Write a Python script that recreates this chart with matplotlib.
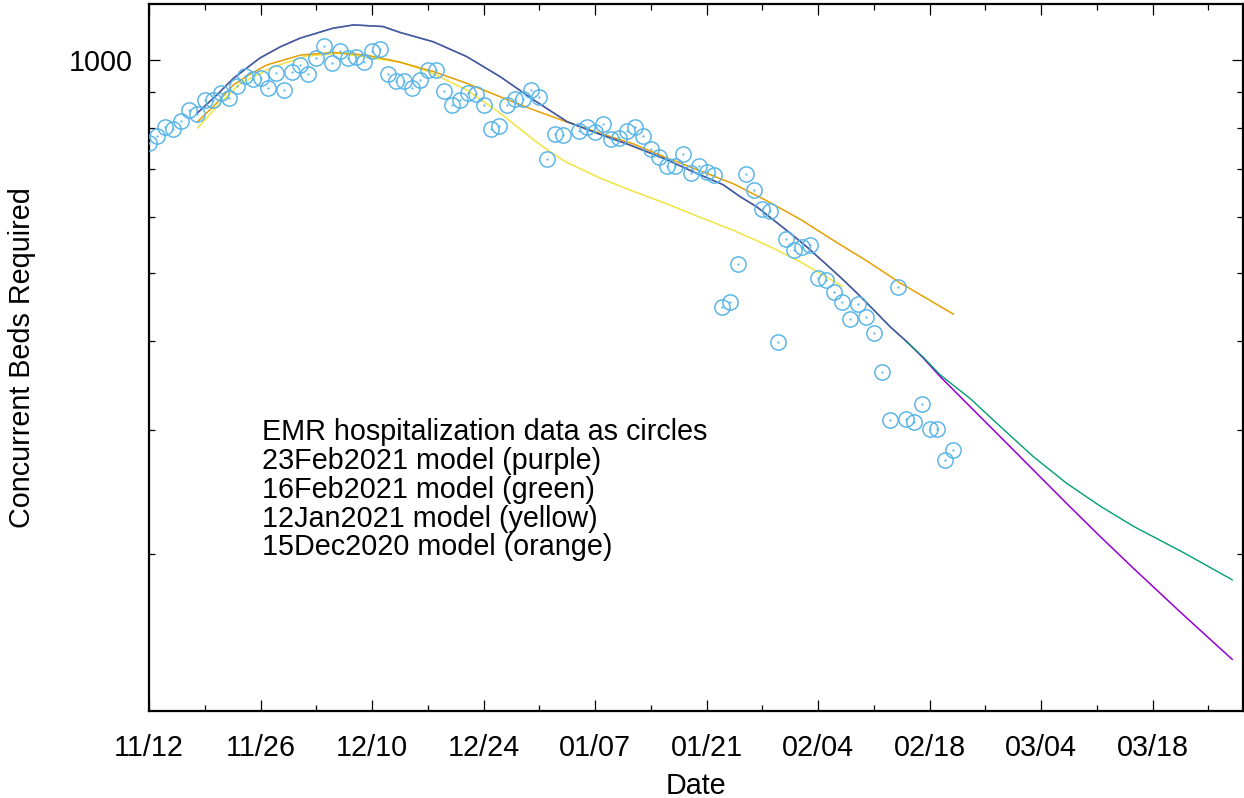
import numpy as np
import matplotlib
matplotlib.use("Agg")
import matplotlib.pyplot as plt
import matplotlib.dates as mdates
from matplotlib.ticker import FixedLocator, NullFormatter, FixedFormatter
from datetime import datetime

plt.rcParams["font.family"] = ["Liberation Sans", "DejaVu Sans"]

# ---- data -------------------------------------------------------------
start_date = datetime(2020, 11, 12)

# EMR hospitalization census, days after 11/12/2020 (no report on day 53)
obs_day = [0, 1, 2, 3, 4, 5, 6, 7, 8, 9, 10, 11, 12, 13, 14, 15, 16, 17, 18, 19,
           20, 21, 22, 23, 24, 25, 26, 27, 28, 29, 30, 31, 32, 33, 34, 35, 36, 37,
           38, 39, 40, 41, 42, 43, 44, 45, 46, 47, 48, 49, 50, 51, 52, 54, 55, 56,
           57, 58, 59, 60, 61, 62, 63, 64, 65, 66, 67, 68, 69, 70, 71, 72, 73, 74,
           75, 76, 77, 78, 79, 80, 81, 82, 83, 84, 85, 86, 87, 88, 89, 90, 91, 92,
           93, 94, 95, 96, 97, 98, 99, 100, 101]
obs_beds = [762, 781, 805, 799, 821, 849, 840, 879, 879, 897, 884, 920, 950, 940,
            944, 912, 958, 906, 963, 984, 955, 1006, 1046, 990, 1031, 1006, 1010,
            993, 1031, 1035, 954, 933, 934, 912, 937, 968, 968, 905, 865, 878, 897,
            895, 864, 798, 807, 865, 881, 881, 906, 886, 724, 786, 783, 793, 805,
            792, 811, 774, 775, 793, 804, 781, 749, 730, 707, 709, 737, 692, 709,
            695, 688, 447, 455, 515, 689, 655, 616, 612, 399, 559, 539, 543, 548,
            491, 488, 469, 454, 430, 452, 433, 411, 362, 310, 478, 311, 308, 326,
            301, 301, 272, 281]

# 23Feb2021 model
feb23_day = [6.1, 8.5, 10.6, 13.9, 16.5, 19.0, 23.1, 25.7, 29.4, 31.5, 35.7, 39.9,
             44.1, 48.3, 52.5, 56.2, 60.4, 64.6, 68.8, 72.1, 74.2, 76.3, 78.4, 80.5,
             82.6, 84.7, 86.8, 88.9, 91.0, 93.1, 95.2, 97.2, 99.3, 101.4, 103.5,
             106.9, 115.2, 119.4, 123.6, 129.9, 136.0]
feb23_beds = [842, 892, 942, 1006, 1044, 1074, 1109, 1121, 1115, 1094, 1061, 1011,
              947, 878, 818, 788, 758, 726, 691, 666, 641, 620, 594, 569, 544, 518,
              493, 468, 443, 419, 399, 379, 357, 338, 320, 293, 236, 212, 191, 164,
              142]

# 16Feb2021 model
feb16_day = [6.1, 8.5, 10.6, 13.9, 16.5, 19.0, 23.1, 25.7, 29.4, 31.5, 35.7, 39.9,
             44.1, 48.3, 52.5, 56.2, 60.4, 64.6, 68.8, 72.1, 74.2, 76.3, 78.4, 80.5,
             82.6, 84.7, 86.8, 88.9, 91.0, 93.1, 95.2, 97.2, 99.3, 103.1, 106.9,
             111.0, 115.2, 119.4, 123.6, 129.9, 136.0]
feb16_beds = [842, 892, 942, 1006, 1044, 1074, 1109, 1121, 1115, 1094, 1061, 1011,
              947, 878, 818, 788, 758, 726, 691, 666, 641, 620, 594, 569, 544, 518,
              493, 468, 443, 419, 399, 380, 359, 332, 303, 275, 252, 234, 219, 201,
              184]

# 12Jan2021 model
jan12_day = [6.1, 9.1, 11.4, 15.6, 19.8, 24.0, 28.2, 31.5, 35.1, 39.9, 42.0, 44.1,
             48.3, 50.4, 52.5, 56.6, 60.8, 65.0, 69.2, 73.4, 77.6, 81.8, 87.0]
jan12_beds = [801, 873, 925, 978, 1013, 1022, 1006, 993, 963, 907, 873, 841, 771,
              741, 716, 681, 652, 626, 599, 574, 547, 518, 479]

# 15Dec2020 model
dec15_day = [6.1, 8.5, 10.6, 12.7, 14.8, 19.0, 23.1, 27.3, 31.5, 35.7, 39.9, 44.1,
             48.3, 52.5, 56.6, 60.8, 65.0, 69.2, 73.4, 77.6, 81.9, 85.9, 90.1, 94.3,
             101.0]
dec15_beds = [818, 869, 922, 955, 984, 1016, 1025, 1016, 993, 963, 927, 887, 850,
              817, 788, 761, 727, 697, 668, 632, 594, 556, 520, 484, 437]

note_lines = ["EMR hospitalization data as circles",
              "23Feb2021 model (purple)",
              "16Feb2021 model (green)",
              "12Jan2021 model (yellow)",
              "15Dec2020 model (orange)"]

# ---- plotting ---------------------------------------------------------
base = mdates.date2num(start_date)


def as_dates(days):
    return base + np.asarray(days, dtype=float)


FS = 20.7
PURPLE, GREEN, YELLOW, ORANGE, BLUE = "#9400d3", "#009e73", "#f0e442", "#e69f00", "#56b4e9"

fig = plt.figure(figsize=(12.44, 7.98), dpi=100)
ax = fig.add_axes([149 / 1244, 1 - 711 / 798, 1094.3 / 1244, 707 / 798])

ax.plot(as_dates(feb23_day), feb23_beds, color=PURPLE, lw=1.1, zorder=3)

# the two February fits coincide until they separate; blend where shared
n_shared = 0
for a, b, c, d in zip(feb23_day, feb23_beds, feb16_day, feb16_beds):
    if a == c and b == d:
        n_shared += 1
    else:
        break
ax.plot(as_dates(feb16_day[:n_shared]), feb16_beds[:n_shared], color=GREEN,
        lw=1.1, alpha=0.62, zorder=4)
ax.plot(as_dates(feb16_day[n_shared - 1:]), feb16_beds[n_shared - 1:],
        color=GREEN, lw=1.0, zorder=4)

ax.plot(as_dates(jan12_day), jan12_beds, color=YELLOW, lw=1.1, zorder=2)
ax.plot(as_dates(dec15_day), dec15_beds, color=ORANGE, lw=1.1, zorder=2)

ax.plot(as_dates(obs_day), obs_beds, linestyle="none", marker="o",
        markersize=11, markerfacecolor="none", markeredgecolor=BLUE,
        markeredgewidth=1.05, zorder=5)
ax.plot(as_dates(obs_day), obs_beds, linestyle="none", marker=".",
        markersize=1.2, color=BLUE, zorder=5)

ax.set_yscale("log")
ax.set_ylim(120, 1200)
ax.set_xlim(base, base + 137.4)

ax.yaxis.set_major_locator(FixedLocator([1000]))
ax.yaxis.set_major_formatter(FixedFormatter(["1000"]))
ax.yaxis.set_minor_locator(FixedLocator([200, 300, 400, 500, 600, 700, 800, 900]))
ax.yaxis.set_minor_formatter(NullFormatter())

ax.xaxis.set_major_locator(FixedLocator(base + np.arange(0, 140, 14)))
ax.xaxis.set_minor_locator(FixedLocator(base + np.arange(7, 140, 14)))
ax.xaxis.set_major_formatter(mdates.DateFormatter("%m/%d"))

for s in ax.spines.values():
    s.set_linewidth(1.6)
ax.tick_params(which="both", direction="in", top=True, right=True, width=0.9,
               colors="black")
ax.tick_params(which="major", length=8)
ax.tick_params(which="minor", length=4.3)
ax.tick_params(axis="x", which="major", labelsize=FS, pad=16.5)
ax.tick_params(axis="y", which="major", labelsize=FS, pad=12)

ax.set_xlabel("Date", fontsize=FS)
ax.set_ylabel("Concurrent Beds Required", fontsize=FS)
ax.xaxis.label.set_va("center")
ax.yaxis.label.set_va("center")
ax.xaxis.set_label_coords(0.5, -0.106)
ax.yaxis.set_label_coords(-0.116, 0.5)

for i, line in enumerate(note_lines):
    ax.text(0.1033, 0.3833 - i * 0.0408, line, transform=ax.transAxes,
            fontsize=FS, va="baseline", ha="left")

fig.savefig("out.png", dpi=100)
